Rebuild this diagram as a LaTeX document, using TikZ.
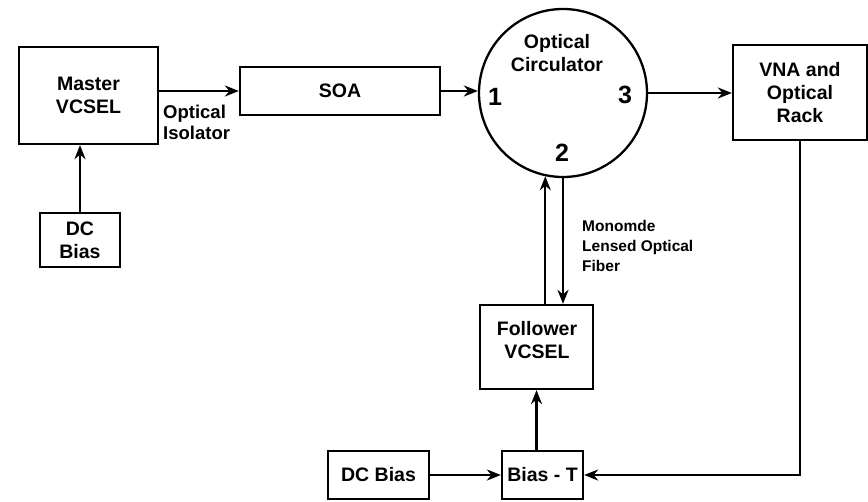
\documentclass[tikz,border=0pt]{standalone}
\usepackage{fontspec}
\setmainfont{Liberation Sans}
\usetikzlibrary{arrows.meta,calc}
\begin{document}
\begin{tikzpicture}[x=1pt,y=-1pt,
  box/.style={draw,line width=2.3pt,rectangle,inner sep=0pt,align=center,font=\fontsize{19.5}{23}\selectfont\bfseries},
  plain/.style={inner sep=0pt,align=center,font=\fontsize{19.5}{23}\selectfont\bfseries},
  lbl/.style={inner sep=0pt,align=left,font=\fontsize{18.5}{21}\selectfont\bfseries},
  small/.style={inner sep=0pt,align=left,font=\fontsize{15.5}{20}\selectfont\bfseries},
  num/.style={inner sep=0pt,font=\fontsize{25}{25}\selectfont\bfseries},
  arr/.style={line width=2.3pt,-{Stealth[length=14pt,width=11pt]}}]
\useasboundingbox (0,0) rectangle (868,501);
\node[box,minimum width=139pt,minimum height=97pt] (master) at (88.5,95.5) {Master\\VCSEL};
\node[box,minimum width=80pt,minimum height=54pt] (dc1) at (80,240) {DC\\Bias};
\node[box,minimum width=200pt,minimum height=48pt] (soa) at (340,91) {SOA};
\node[draw,line width=2.3pt,circle,minimum size=168pt,inner sep=0pt] (circ) at (563,93) {};
\node[box,minimum width=134pt,minimum height=95pt] (vna) at (800,92.5) {VNA and\\Optical\\Rack};
\node[box,minimum width=113pt,minimum height=84pt] (fol) at (536.5,347) {};
\node[plain] (foltxt) at (537,340) {Follower\\VCSEL};
\node[box,minimum width=81pt,minimum height=48pt] (biast) at (542.5,475) {Bias - T};
\node[box,minimum width=101pt,minimum height=48pt] (dc2) at (378.5,475) {DC Bias};

\node[lbl,anchor=west] (iso) at (163,122) {Optical\\Isolator};
\node[plain] (ctitle) at (557,53) {Optical\\Circulator};
\node[num] (p1) at (495,97) {1};
\node[num] (p2) at (562,153) {2};
\node[num] (p3) at (625,95) {3};
\node[small,anchor=west] (fib) at (582,246) {Monomde\\Lensed Optical\\Fiber};

\coordinate (cup) at (circ.258);
\draw[arr] (dc1.north) -- (dc1.north |- master.south);
\draw[arr] (soa.west -| master.east) -- (soa.west);
\draw[arr] (soa.east) -- (soa.east -| circ.west);
\draw[arr] (circ.east) -- (circ.east -| vna.west);
\draw[arr] (fol.north -| cup) -- (cup);
\draw[arr] (circ.south) -- (circ.south |- fol.north);
\draw[arr] (biast.north -| fol.south) -- (fol.south);
\draw[arr] (dc2.east) -- (biast.west);
\draw[arr] (vna.south) |- (biast.east);
\end{tikzpicture}
\end{document}
